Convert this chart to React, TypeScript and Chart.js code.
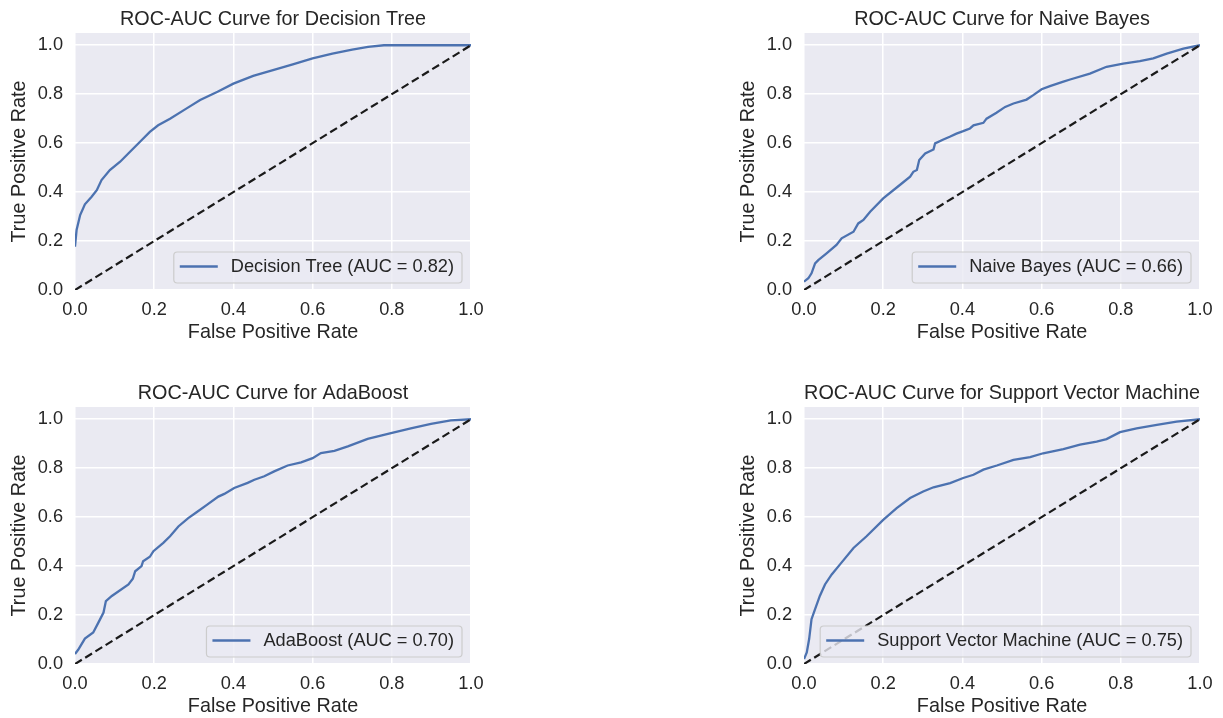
import React, { useEffect, useRef } from "react";
import { Chart, registerables } from "chart.js";

Chart.register(...registerables);

// ---------- data ----------
const xTicks = [0, 0.2, 0.4, 0.6, 0.8, 1.0];
const yTicks = [0, 0.2, 0.4, 0.6, 0.8, 1.0];
const chanceFpr = [0, 1];
const chanceTpr = [0, 1];

const modelNames = ["Decision Tree", "Naive Bayes", "AdaBoost", "Support Vector Machine"];
const aucValues = ["0.82", "0.66", "0.70", "0.75"];

const fprDecisionTree = [0, 0.004, 0.013, 0.025, 0.042, 0.055, 0.067, 0.088, 0.114, 0.139, 0.168, 0.189, 0.21, 0.24, 0.282, 0.316, 0.36, 0.4, 0.45, 0.5, 0.55, 0.6, 0.65, 0.7, 0.74, 0.78, 0.85, 1.0];
const tprDecisionTree = [0.177, 0.245, 0.306, 0.35, 0.381, 0.408, 0.449, 0.49, 0.524, 0.565, 0.612, 0.646, 0.673, 0.7, 0.742, 0.776, 0.81, 0.843, 0.875, 0.898, 0.922, 0.946, 0.966, 0.982, 0.993, 1.0, 1.0, 1.0];

const fprNaiveBayes = [0, 0.011, 0.019, 0.028, 0.036, 0.057, 0.082, 0.095, 0.125, 0.137, 0.15, 0.167, 0.2, 0.242, 0.268, 0.276, 0.285, 0.291, 0.306, 0.327, 0.331, 0.352, 0.368, 0.385, 0.402, 0.419, 0.428, 0.453, 0.461, 0.486, 0.508, 0.529, 0.562, 0.579, 0.6, 0.621, 0.655, 0.672, 0.722, 0.764, 0.806, 0.848, 0.882, 0.916, 0.958, 1.0];
const tprNaiveBayes = [0.034, 0.048, 0.068, 0.109, 0.122, 0.15, 0.184, 0.211, 0.238, 0.272, 0.286, 0.32, 0.374, 0.429, 0.463, 0.483, 0.49, 0.531, 0.558, 0.574, 0.599, 0.615, 0.626, 0.639, 0.649, 0.66, 0.673, 0.683, 0.7, 0.724, 0.748, 0.762, 0.778, 0.796, 0.82, 0.833, 0.851, 0.86, 0.884, 0.912, 0.925, 0.935, 0.946, 0.966, 0.986, 1.0];

const fprAdaBoost = [0, 0.008, 0.025, 0.046, 0.059, 0.072, 0.078, 0.093, 0.135, 0.146, 0.152, 0.168, 0.172, 0.189, 0.198, 0.223, 0.24, 0.261, 0.286, 0.307, 0.333, 0.362, 0.377, 0.402, 0.436, 0.453, 0.478, 0.503, 0.537, 0.571, 0.6, 0.621, 0.655, 0.689, 0.739, 0.798, 0.848, 0.899, 0.949, 1.0];
const tprAdaBoost = [0.041, 0.058, 0.104, 0.129, 0.169, 0.21, 0.257, 0.278, 0.325, 0.348, 0.379, 0.4, 0.42, 0.438, 0.461, 0.495, 0.522, 0.562, 0.596, 0.62, 0.65, 0.684, 0.695, 0.719, 0.74, 0.753, 0.767, 0.787, 0.811, 0.824, 0.841, 0.862, 0.871, 0.889, 0.92, 0.943, 0.963, 0.981, 0.995, 1.0];

const fprSvm = [0, 0.007, 0.013, 0.019, 0.028, 0.04, 0.053, 0.07, 0.091, 0.125, 0.158, 0.2, 0.234, 0.268, 0.301, 0.327, 0.369, 0.402, 0.428, 0.453, 0.487, 0.529, 0.571, 0.604, 0.655, 0.697, 0.739, 0.764, 0.798, 0.84, 0.891, 0.941, 1.0];
const tprSvm = [0.02, 0.047, 0.102, 0.183, 0.224, 0.278, 0.325, 0.366, 0.407, 0.474, 0.522, 0.589, 0.637, 0.678, 0.705, 0.722, 0.739, 0.76, 0.773, 0.794, 0.811, 0.834, 0.845, 0.861, 0.878, 0.896, 0.909, 0.919, 0.947, 0.963, 0.977, 0.99, 1.0];

// ---------- style ----------
const FONT = "'Liberation Sans', Arial, 'DejaVu Sans', sans-serif";
const TEXT = "#262626";
const BLUE = "#4C72B0";
const AXES_BG = "#EAEAF2";

const bgPlugin = {
  id: "axesBg",
  beforeDraw(chart: any) {
    const a = chart.chartArea;
    const ctx = chart.ctx;
    ctx.save();
    ctx.fillStyle = AXES_BG;
    ctx.fillRect(a.left, a.top, a.right - a.left, a.bottom - a.top);
    ctx.restore();
  },
};

const legendPlugin = {
  id: "rocLegend",
  afterDatasetsDraw(chart: any, _args: any, opts: any) {
    const a = chart.chartArea;
    const ctx = chart.ctx;
    const label: string = opts.text;
    ctx.save();
    ctx.font = `18.2px ${FONT}`;
    const tw = ctx.measureText(label).width;
    const h = 31;
    const w = 57 + tw + 8;
    const x = a.right - 9 - w;
    const y = a.bottom - 7 - h;
    const r = 3.5;
    ctx.beginPath();
    ctx.moveTo(x + r, y);
    ctx.lineTo(x + w - r, y);
    ctx.arcTo(x + w, y, x + w, y + r, r);
    ctx.lineTo(x + w, y + h - r);
    ctx.arcTo(x + w, y + h, x + w - r, y + h, r);
    ctx.lineTo(x + r, y + h);
    ctx.arcTo(x, y + h, x, y + h - r, r);
    ctx.lineTo(x, y + r);
    ctx.arcTo(x, y, x + r, y, r);
    ctx.closePath();
    ctx.fillStyle = "rgba(234,234,242,0.8)";
    ctx.fill();
    ctx.strokeStyle = "#cccccc";
    ctx.lineWidth = 1.2;
    ctx.stroke();
    const cy = y + h / 2 - 1;
    ctx.beginPath();
    ctx.moveTo(x + 6, cy);
    ctx.lineTo(x + 44, cy);
    ctx.strokeStyle = BLUE;
    ctx.lineWidth = 2.3;
    ctx.stroke();
    ctx.fillStyle = TEXT;
    ctx.textBaseline = "middle";
    ctx.textAlign = "left";
    ctx.fillText(label, x + 57, cy);
    ctx.restore();
  },
};

type PanelProps = {
  left: number;
  top: number;
  width: number;
  padRight: number;
  title: string;
  label: string;
  fpr: number[];
  tpr: number[];
};

const CANVAS_H = 346;

function RocPanel({ left, top, width, padRight, title, label, fpr, tpr }: PanelProps) {
  const ref = useRef<HTMLCanvasElement | null>(null);

  useEffect(() => {
    if (!ref.current) return;
    const tickFont = { family: FONT, size: 18.2, lineHeight: 1.2 };
    const labelFont = { family: FONT, size: 19.8, lineHeight: 1.2, weight: "normal" as const };
    const chart = new Chart(ref.current, {
      type: "scatter",
      data: {
        datasets: [
          {
            label,
            data: fpr.map((x, i) => ({ x, y: tpr[i] })),
            showLine: true,
            borderColor: BLUE,
            backgroundColor: BLUE,
            borderWidth: 2.3,
            pointRadius: 0,
            tension: 0,
            fill: false,
            order: 2,
          },
          {
            label: "chance",
            data: chanceFpr.map((x, i) => ({ x, y: chanceTpr[i] })),
            showLine: true,
            borderColor: "#1a1a1a",
            borderWidth: 2.2,
            borderDash: [8, 4],
            pointRadius: 0,
            tension: 0,
            fill: false,
            order: 1,
          },
        ],
      },
      options: {
        animation: false,
        responsive: false,
        devicePixelRatio: 1,
        events: [],
        layout: { padding: { left: 0, top: 0, right: padRight, bottom: 0 } },
        plugins: {
          legend: { display: false },
          tooltip: { enabled: false },
          title: {
            display: true,
            text: title,
            fullSize: false,
            color: TEXT,
            font: labelFont,
            padding: { top: 8, bottom: 1.24 },
          },
          rocLegend: { text: label },
        } as any,
        scales: {
          x: {
            type: "linear",
            min: 0,
            max: 1,
            afterBuildTicks: (s: any) => {
              s.ticks = xTicks.map((v) => ({ value: v }));
            },
            afterFit: (s: any) => {
              s.height = 56;
              s.paddingLeft = 0;
              s.paddingRight = 0;
            },
            ticks: {
              padding: 9,
              color: TEXT,
              font: tickFont,
              maxRotation: 0,
              autoSkip: false,
              callback: (v: any) => Number(v).toFixed(1),
            },
            grid: { color: "#ffffff", lineWidth: 1.5, drawTicks: false },
            border: { display: false },
            title: {
              display: true,
              text: "False Positive Rate",
              color: TEXT,
              font: labelFont,
              padding: { top: 0, bottom: 2 },
            },
          },
          y: {
            type: "linear",
            min: 0,
            max: 1.05,
            afterBuildTicks: (s: any) => {
              s.ticks = yTicks.map((v) => ({ value: v }));
            },
            afterFit: (s: any) => {
              s.width = 75;
              s.paddingTop = 0;
              s.paddingBottom = 0;
            },
            ticks: {
              padding: 12,
              color: TEXT,
              font: tickFont,
              autoSkip: false,
              callback: (v: any) => Number(v).toFixed(1),
            },
            grid: { color: "#ffffff", lineWidth: 1.5, drawTicks: false },
            border: { display: false },
            title: {
              display: true,
              text: "True Positive Rate",
              color: TEXT,
              font: labelFont,
              padding: { top: 8, bottom: 0 },
            },
          },
        },
      } as any,
      plugins: [bgPlugin, legendPlugin],
    });
    return () => chart.destroy();
  }, []);

  return (
    <canvas
      ref={ref}
      width={width}
      height={CANVAS_H}
      style={{ position: "absolute", left, top, width, height: CANVAS_H }}
    />
  );
}

export default function App() {
  const panels = [
    { left: 0, top: 0, width: 500, padRight: 29, fpr: fprDecisionTree, tpr: tprDecisionTree },
    { left: 729, top: 0, width: 494, padRight: 23, fpr: fprNaiveBayes, tpr: tprNaiveBayes },
    { left: 0, top: 374, width: 500, padRight: 29, fpr: fprAdaBoost, tpr: tprAdaBoost },
    { left: 729, top: 374, width: 494, padRight: 23, fpr: fprSvm, tpr: tprSvm },
  ];
  return (
    <div
      style={{
        position: "absolute",
        left: 0,
        top: 0,
        width: 1223,
        height: 718,
        overflow: "hidden",
        background: "#ffffff",
      }}
    >
      {panels.map((p, i) => (
        <RocPanel
          key={i}
          {...p}
          title={`ROC-AUC Curve for ${modelNames[i]}`}
          label={`${modelNames[i]} (AUC = ${aucValues[i]})`}
        />
      ))}
    </div>
  );
}
